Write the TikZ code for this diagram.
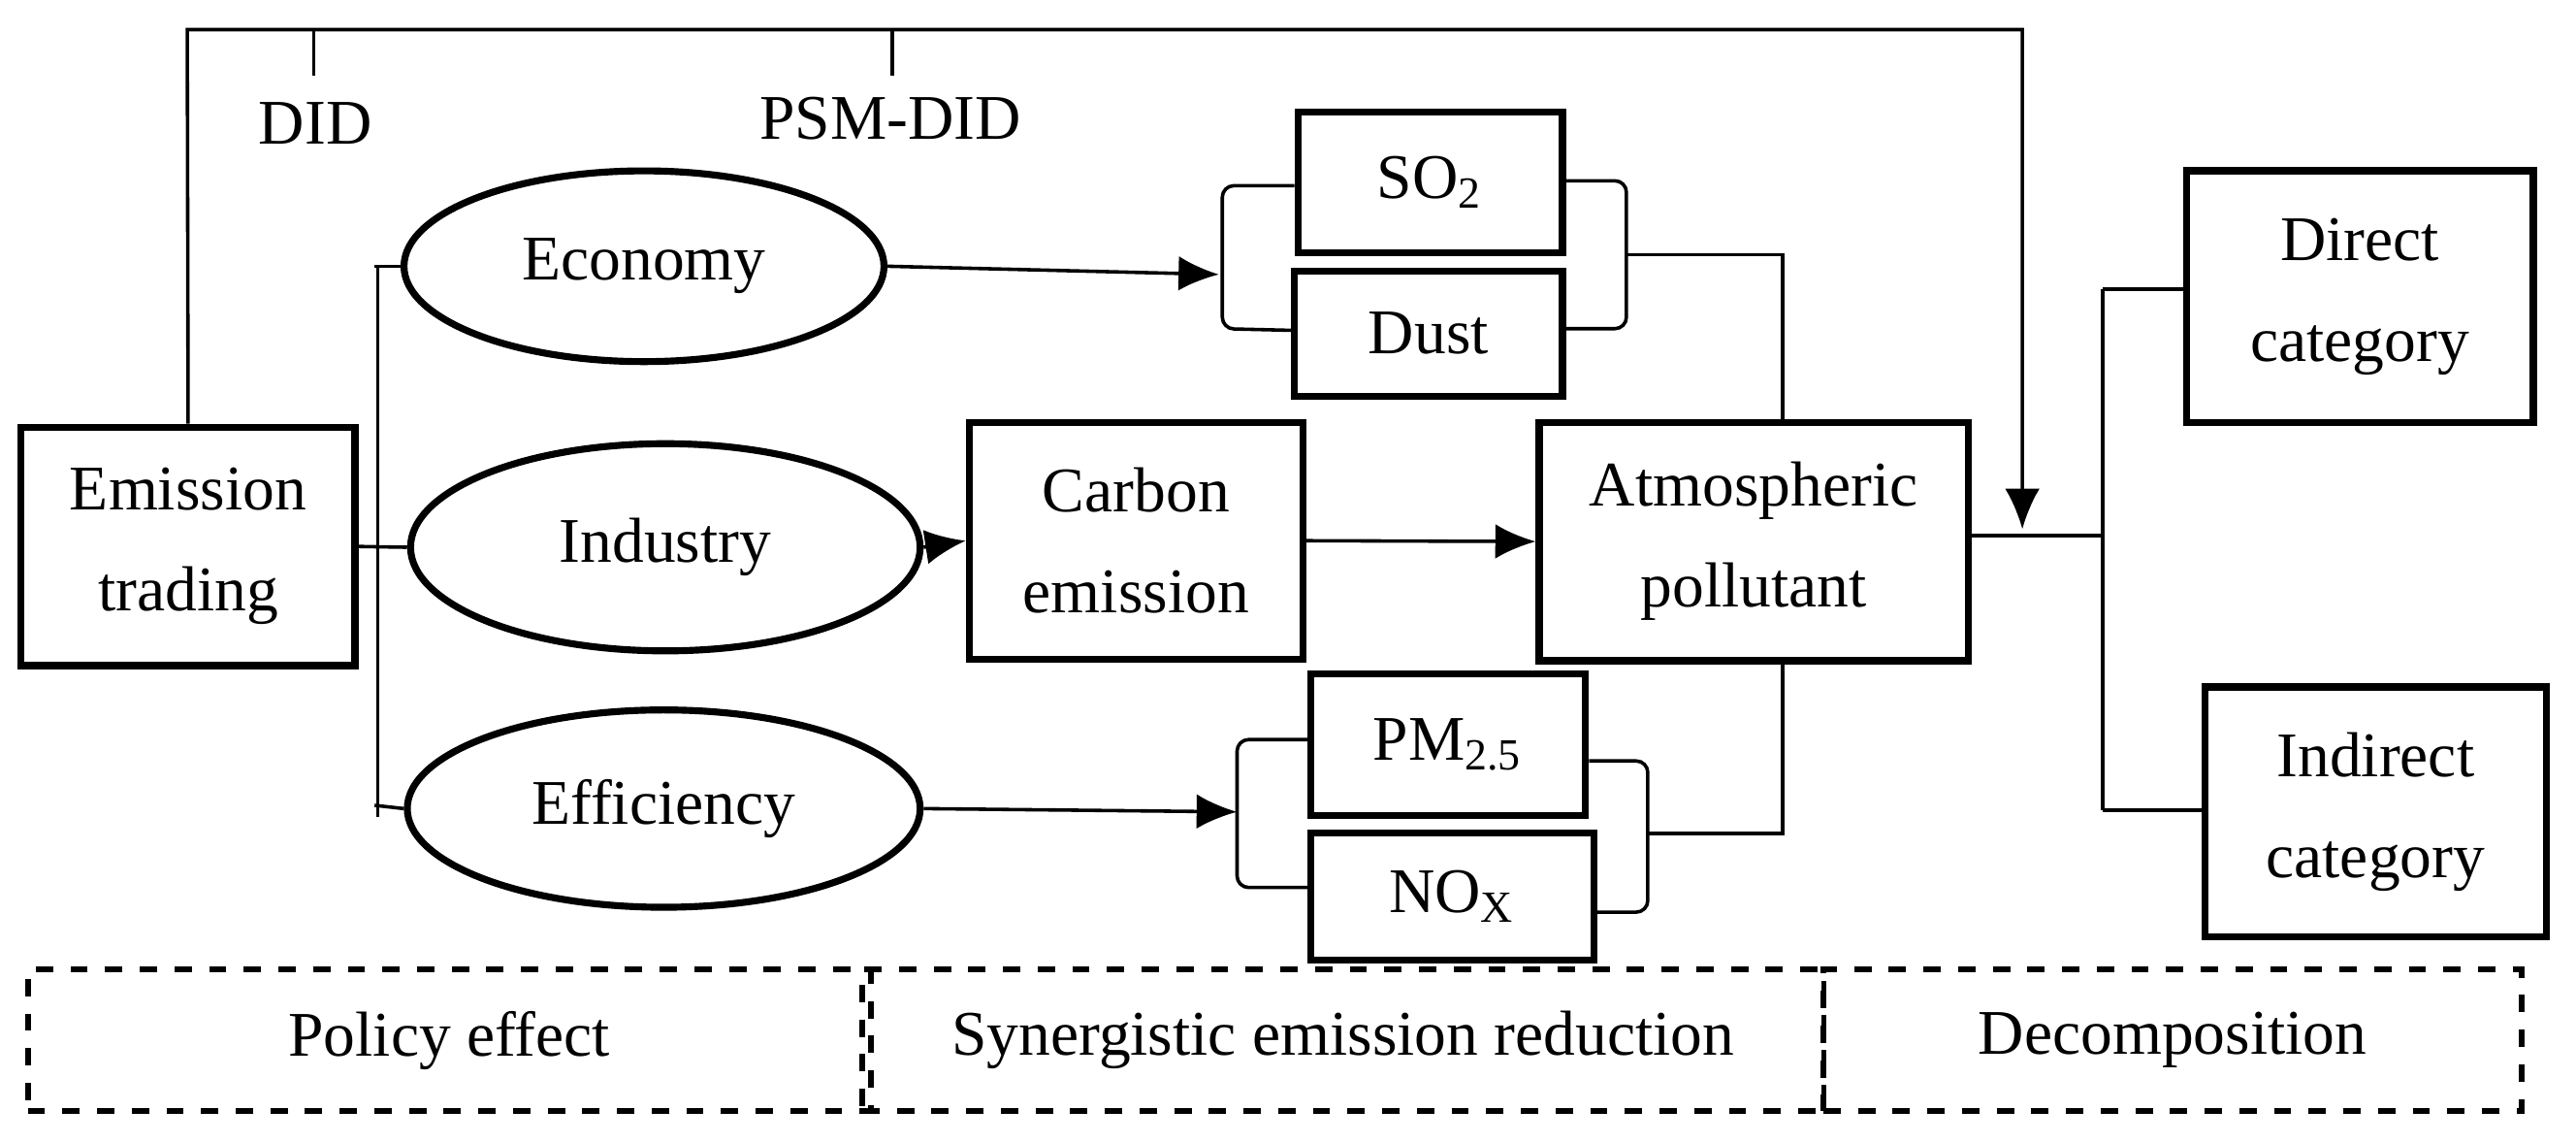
\documentclass[tikz,border=0pt]{standalone}
\usepackage{fontspec}
\setmainfont{Liberation Serif}
\usetikzlibrary{shapes.geometric,arrows.meta}
\tikzset{
	box/.style={draw,line width=1.2pt,align=center,font=\fontsize{11}{17.5}\selectfont},
	oval/.style={draw,ellipse,line width=1.2pt,font=\fontsize{11}{13}\selectfont},
	part/.style={draw,dashed,line width=1pt,font=\fontsize{11}{13}\selectfont},
	link/.style={line width=0.6pt},
	arr/.style={link,-{Latex[length=7pt,width=6pt]}}
}
\begin{document}
\begin{tikzpicture}[x=0.01cm,y=-0.01cm]
	\useasboundingbox (0,0) rectangle (1568,695);

	\node[box,minimum width=2.03cm,minimum height=1.45cm] (ET) at (114.5,332.5) {Emission\\trading};

	\node[oval,minimum width=2.92cm,minimum height=1.16cm] (EC) at (392,162) {Economy};
	\node[oval,minimum width=3.1cm,minimum height=1.26cm] (IN) at (405,333) {Industry};
	\node[oval,minimum width=3.12cm,minimum height=1.2cm] (EF) at (404,492) {Efficiency};

	\node[box,minimum width=1.61cm,minimum height=0.86cm] (SO) at (870.5,111) {SO\textsubscript{2}};
	\node[box,minimum width=1.63cm,minimum height=0.76cm] (DU) at (869.5,203) {Dust};
	\node[box,minimum width=2.03cm,minimum height=1.44cm] (CE) at (691.5,329) {Carbon\\emission};
	\node[box,minimum width=2.61cm,minimum height=1.45cm] (AP) at (1067.5,329.5) {Atmospheric\\pollutant};
	\node[box,minimum width=1.67cm,minimum height=0.86cm] (PM) at (881.5,453) {PM\textsubscript{2.5}};
	\node[box,minimum width=1.72cm,minimum height=0.77cm] (NO) at (884,545.5) {NO\textsubscript{X}};
	\node[box,minimum width=2.11cm,minimum height=1.53cm] (DC) at (1436.5,180.5) {Direct\\category};
	\node[box,minimum width=2.08cm,minimum height=1.52cm] (IC) at (1446,494) {Indirect\\category};

	\node[part,minimum width=5.13cm,minimum height=0.86cm] (PE) at (273.5,633) {Policy effect};
	\node[part,minimum width=5.85cm,minimum height=0.86cm] (SE) at (817.5,633) {Synergistic emission reduction};
	\node[part,minimum width=4.25cm,minimum height=0.86cm] (DE) at (1322.5,633) {Decomposition};

	% methods line
	\coordinate (T1) at (114,18);
	\coordinate (T2) at (1231,18);
	\coordinate (TA) at (1231,322);
	\draw[arr] (ET.north) -- (T1) -- (T2) -- (TA);
	\draw[link] (191,18) -- (191,46);
	\draw[link] (543,18) -- (543,46);
	\node[font=\fontsize{11}{13}\selectfont] (DID) at (192,75) {DID};
	\node[font=\fontsize{11}{13}\selectfont] (PSM) at (542,72) {PSM-DID};

	% policy bracket
	\draw[link] (230,162) -- (230,497);
	\draw[link] (228,162) -- (EC.west);
	\draw[link] (ET.east) -- (IN.west);
	\draw[link] (228,490) -- (EF.west);

	% channels
	\coordinate (B1) at (742,167);
	\coordinate (B2) at (753,494);
	\draw[arr] (EC.east) -- (B1);
	\draw[arr] (IN.east) -- (CE.west);
	\draw[arr] (CE.east) -- (AP.west);
	\draw[arr] (EF.east) -- (B2);

	% pollutant brackets
	\draw[link,rounded corners=2pt] (SO.west |- 0,113) -- (744,113) -- (744,200) -- (DU.west |- 0,201);
	\draw[link,rounded corners=2pt] (SO.east |- 0,110) -- (990,110) -- (990,200) -- (DU.east |- 0,200);
	\draw[link] (990,155) -- (1085,155) -- (1085,257);
	\draw[link,rounded corners=2pt] (PM.west |- 0,450) -- (753,450) -- (753,540) -- (NO.west |- 0,540);
	\draw[link,rounded corners=2pt] (PM.east |- 0,463) -- (1003,463) -- (1003,555) -- (NO.east |- 0,555);
	\draw[link] (1003,507) -- (1085,507) -- (1085,402);

	% decomposition
	\draw[link] (AP.east |- 0,326) -- (1280,326);
	\draw[link] (1280,176) -- (1280,493);
	\draw[link] (1280,176) -- (DC.west |- 0,176);
	\draw[link] (1280,493) -- (IC.west |- 0,493);
\end{tikzpicture}
\end{document}
